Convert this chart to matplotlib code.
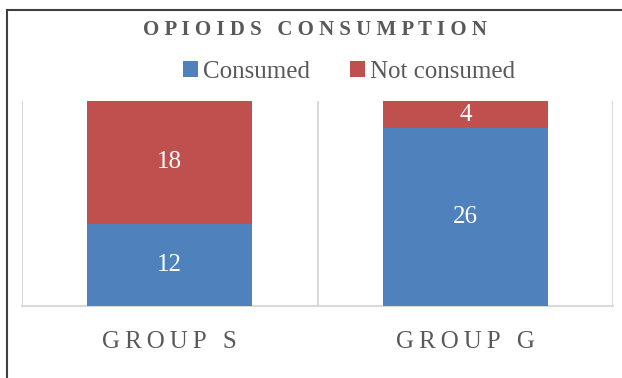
import matplotlib
matplotlib.use("Agg")
import matplotlib.pyplot as plt
from matplotlib.lines import Line2D

groups = ["GROUP S", "GROUP G"]
consumed = [12, 26]
not_consumed = [18, 4]

blue = "#4F81BD"
red = "#C0504D"
grey_txt = "#595959"
grid_col = "#D9D9D9"

plt.rcParams["font.family"] = ["Liberation Serif", "DejaVu Serif"]

def spaced(s, gap=" "):
    # fake letter spacing
    return gap.join(s)

fig = plt.figure(figsize=(6.22, 3.78), dpi=100)
ax = fig.add_axes([22/622, 1-306/378, 591/622, 205/378])

x = list(range(len(groups)))
ax.bar(x, consumed, width=0.56, color=blue, label="Consumed", zorder=3)
ax.bar(x, not_consumed, width=0.56, bottom=consumed, color=red, label="Not consumed", zorder=3)

for i in x:
    ax.text(i, consumed[i]/2, str(consumed[i]), ha="center", va="center",
            color="white", fontsize=18, zorder=4)
    ax.text(i, consumed[i] + not_consumed[i]/2, str(not_consumed[i]), ha="center",
            va="center", color="white", fontsize=18, zorder=4)

ax.set_xlim(-0.5, 1.5)
ax.set_ylim(0, 30)
ax.set_yticks([])
for gx in [-0.5, 0.5, 1.5]:
    ax.axvline(gx, color=grid_col, lw=1.5, zorder=1)
ax.set_xticks(x)
ax.set_xticklabels([spaced(g, "\u2009") for g in groups], fontsize=18, color=grey_txt)
ax.tick_params(axis="x", length=0, pad=18)
for s in ["top", "right", "left"]:
    ax.spines[s].set_visible(False)
ax.spines["bottom"].set_color(grid_col)
ax.spines["bottom"].set_linewidth(1.5)

fig.text(314.5/622, 1-30/378, spaced("OPIOIDS") + "   " + spaced("CONSUMPTION"),
         ha="center", va="center", fontsize=15, fontweight="bold", color=grey_txt)

fig.legend(loc="center", bbox_to_anchor=(349/622, 1-72/378), ncol=2, frameon=False,
           fontsize=18, labelcolor=grey_txt, handlelength=0.6, handleheight=0.6,
           handletextpad=0.2, columnspacing=1.6)

# outer chart border (left and top only)
fig.add_artist(Line2D([7/622, 7/622], [0, 1-10/378], color="#404040", lw=1.5))
fig.add_artist(Line2D([7/622, 1], [1-10/378, 1-10/378], color="#404040", lw=1.5))

fig.savefig("out.png", dpi=100)
